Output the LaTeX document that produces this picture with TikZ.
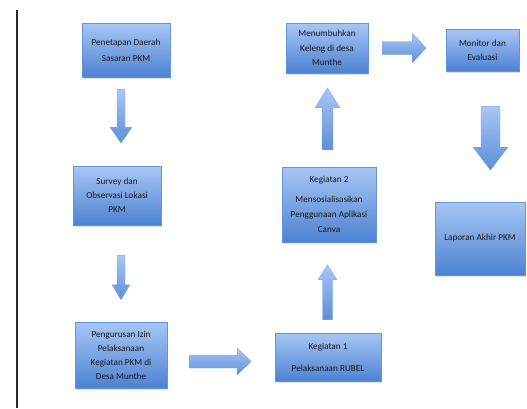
\documentclass[tikz,border=0pt]{standalone}
\usepackage{fontspec}
\setmainfont{Carlito}
\usetikzlibrary{calc,shadows}
\definecolor{boxtop}{RGB}{168,198,245}
\definecolor{boxbot}{RGB}{76,130,210}
\definecolor{boxline}{RGB}{100,148,218}
% block arrow: start, end, half shaft, half head, head length
\newcommand{\blockarrow}[5]{%
  \coordinate (neck) at ($(#2)!#5!(#1)$);
  \shade[blockarr] ($(#1)!#3!90:(#2)$) -- ($(neck)!#3!90:(#2)$) -- ($(neck)!#4!90:(#2)$) -- (#2)
    -- ($(neck)!#4!-90:(#2)$) -- ($(neck)!#3!-90:(#2)$) -- ($(#1)!#3!-90:(#2)$) -- cycle;
}
\begin{document}
\begin{tikzpicture}[x=1pt, y=-1pt,
    box/.style={rectangle, draw=boxline, line width=.4pt, top color=boxtop, bottom color=boxbot,
      drop shadow={opacity=.25, shadow xshift=1pt, shadow yshift=-1.5pt},
      align=center, font=\fontsize{9.2}{14}\selectfont, text=black!90, inner sep=1pt},
    blockarr/.style={draw=boxline!80, line width=.3pt, top color=boxtop, bottom color=boxbot!90}]
    \useasboundingbox (0,0) rectangle (527,408);
    \draw[line width=2.2pt, black!85] (17,10)--(17,408);

    % left column
    \node[box, minimum width=88, minimum height=54] (pen) at (126,50) {Penetapan Daerah\\[2pt]Sasaran PKM};
    \node[box, minimum width=88, minimum height=59] (survey) at (117,195.5) {Survey dan\\Observasi Lokasi\\PKM};
    \node[box, minimum width=92, minimum height=66] (izin) at (121,355) {Pengurusan Izin\\Pelaksanaan\\Kegiatan PKM di\\Desa Munthe};
    % middle column
    \node[box, minimum width=106, minimum height=48] (keg1) at (328,357) {Kegiatan 1\\[8pt]Pelaksanaan RUBEL};
    \node[box, minimum width=94, minimum height=75] (keg2) at (329,204.5) {Kegiatan 2\\[6pt]Mensosialisasikan\\[1pt]Penggunaan Aplikasi\\[1pt]Canva};
    \node[box, minimum width=82, minimum height=50] (tumbuh) at (327,48) {Menumbuhkan\\[1pt]Keleng di desa\\Munthe};
    % right column
    \node[box, minimum width=73, minimum height=42] (monev) at (482.5,50) {Monitor dan\\Evaluasi};
    \node[box, minimum width=90, minimum height=73] (laporan) at (480,238.5) {Laporan Akhir PKM};

    \coordinate (a1s) at ($(pen.south)+(-5,12)$);
    \coordinate (a1e) at ($(pen.south)+(-5,66)$);
    \coordinate (a2s) at ($(survey.south)+(4,30)$);
    \coordinate (a2e) at ($(izin.north)+(0,-22)$);
    \coordinate (a3s) at ($(izin.east)+(22,6.5)$);
    \coordinate (a3e) at ($(izin.east)+(84,6.5)$);
    \coordinate (a4s) at ($(keg1.north)+(-.5,-13)$);
    \coordinate (a4e) at ($(keg1.north)+(-.5,-68)$);
    \coordinate (a5s) at ($(keg2.north)+(-1.5,-17)$);
    \coordinate (a5e) at ($(keg2.north)+(-1.5,-79)$);
    \coordinate (a6s) at ($(tumbuh.east)+(14,0)$);
    \coordinate (a6e) at ($(tumbuh.east)+(58,0)$);
    \coordinate (a7s) at ($(monev.south)+(8,35)$);
    \coordinate (a7e) at ($(monev.south)+(8,99)$);

    \blockarrow{a1s}{a1e}{4pt}{11pt}{16pt}
    \blockarrow{a2s}{a2e}{4pt}{9pt}{15pt}
    \blockarrow{a3s}{a3e}{6.5pt}{13.5pt}{14pt}
    \blockarrow{a4s}{a4e}{5pt}{9.5pt}{15pt}
    \blockarrow{a5s}{a5e}{5.5pt}{12.5pt}{20pt}
    \blockarrow{a6s}{a6e}{6.5pt}{15pt}{14pt}
    \blockarrow{a7s}{a7e}{9.5pt}{17.5pt}{23pt}
\end{tikzpicture}
\end{document}
